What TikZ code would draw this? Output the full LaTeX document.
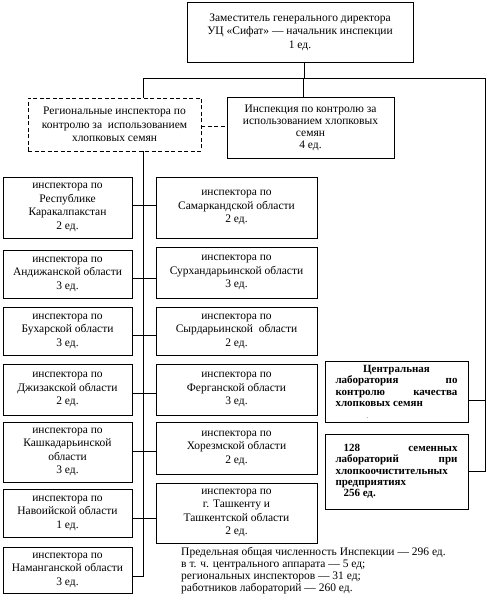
\documentclass[tikz,border=0pt]{standalone}
\usepackage{fontspec}
\setmainfont{Liberation Serif}
\begin{document}
\begin{tikzpicture}[x=1pt,y=-1pt,
  box/.style={draw, line width=0.8pt, align=center, inner sep=0pt, font=\fontsize{11.5}{13.5}\selectfont},
  dbox/.style={box, dash pattern=on 4pt off 2.5pt},
  lab/.style={draw, line width=0.8pt, inner sep=0pt, font=\bfseries\fontsize{11}{11.5}\selectfont},
  ln/.style={line width=0.8pt},
  note/.style={inner sep=0pt, anchor=north west, align=left, font=\fontsize{11.5}{12}\selectfont}]
\useasboundingbox (0,0) rectangle (488,609);
% top
\node[box, minimum width=226, minimum height=60] (top) at (300,32) {Заместитель генерального директора\\УЦ «Сифат» — начальник инспекции\\1 ед.};
\node[dbox, minimum width=173, minimum height=53] (reg) at (114.5,124.5) {Региональные инспектора по\\контролю за \ использованием\\хлопковых семян};
\node[box, minimum width=167, minimum height=61, font=\fontsize{11.5}{12}\selectfont] (insp) at (310.5,127.5) {Инспекция по контролю за\\использованием хлопковых\\семян\\4 ед.};
% left column
\node[box, minimum width=129, minimum height=61] (L1) at (67.5,207.5) {инспектора по\\Республике\\Каракалпакстан\\2 ед.};
\node[box, minimum width=129, minimum height=48] (L2) at (67.5,274) {инспектора по\\Андижанской области\\3 ед.};
\node[box, minimum width=129, minimum height=48] (L3) at (67.5,331) {инспектора по\\Бухарской области\\3 ед.};
\node[box, minimum width=129, minimum height=51] (L4) at (67.5,389.5) {инспектора по\\Джизакской области\\2 ед.};
\node[box, minimum width=129, minimum height=60] (L5) at (67.5,452) {инспектора по\\Кашкадарьинской\\области\\3 ед.};
\node[box, minimum width=129, minimum height=48] (L6) at (67.5,513) {инспектора по\\Навоийской области\\1 ед.};
\node[box, minimum width=129, minimum height=46] (L7) at (67.5,570) {инспектора по\\Наманганской области\\3 ед.};
% right column
\node[box, minimum width=161, minimum height=61] (R1) at (236.5,207.5) {инспектора по\\Самаркандской области\\2 ед.};
\node[box, minimum width=161, minimum height=51] (R2) at (236.5,272.5) {инспектора по\\Сурхандарьинской области\\3 ед.};
\node[box, minimum width=161, minimum height=48] (R3) at (236.5,331) {инспектора по\\Сырдарьинской \ области\\2 ед.};
\node[box, minimum width=161, minimum height=51] (R4) at (236.5,389.5) {инспектора по\\Ферганской области\\3 ед.};
\node[box, minimum width=161, minimum height=52] (R5) at (236.5,448) {инспектора по\\Хорезмской области\\2 ед.};
\node[box, minimum width=161, minimum height=60] (R6) at (236.5,513) {инспектора по\\г. Ташкенту и\\Ташкентской области\\2 ед.};
% labs
\node[lab, minimum width=143, minimum height=61] (clab) at (396.5,391.5) {\vbox{\hsize=122pt\baselineskip=11.5pt
  \hbox to\hsize{\hfil Центральная\hfil}
  \hbox to\hsize{лаборатория\hfill по}
  \hbox to\hsize{контролю\hfill качества}
  \hbox to\hsize{хлопковых семян\hfil}
  \hbox to\hsize{\hskip31pt{\mdseries\fontsize{6}{6}\selectfont .}\hfil}}};
\node[lab, minimum width=143, minimum height=75] (blab) at (396.5,471.5) {\vbox{\hsize=122pt\baselineskip=11.3pt
  \hbox to\hsize{\hskip8pt 128\hfill семенных}
  \hbox to\hsize{лабораторий\hfill при}
  \hbox to\hsize{хлопкоочистительных\hfil}
  \hbox to\hsize{предприятиях\hfil}
  \hbox to\hsize{\hskip8pt 256 ед.\hfil}}};
% footer
\node[note] (foot) at (181,547) {Предельная общая численность Инспекции — 296 ед.\\в т. ч. центрального аппарата — 5 ед;\\региональных инспекторов — 31 ед;\\работников лабораторий — 260 ед.};
% connectors
\coordinate (hl) at (143,78);
\coordinate (hr) at (485,78);
\coordinate (sp) at (143,576);
\draw[ln] ([xshift=4pt]top.south) -- ([xshift=4pt]top.south |- hl);
\draw[ln] (reg.north -| hl) -- (hl) -- (hr) -- (hr |- blab.east) -- (blab.east);
\draw[ln] ([yshift=-8.5pt]clab.east) -- ([yshift=-8.5pt]clab.east -| hr);
\draw[ln] ([xshift=-7.5pt]insp.north) -- ([xshift=-7.5pt]insp.north |- hl);
\draw[ln, dash pattern=on 4pt off 2.5pt] (reg.east |- 0,126) -- (insp.west |- 0,126);
\draw[ln] (reg.south -| hl) -- (sp) -- (sp -| L7.east);
\foreach \r/\yy in {1/205, 2/278, 3/335, 4/393, 5/451, 6/518} {
  \draw[ln] (L\r.east |- 0,\yy) -- (R\r.west |- 0,\yy);
}
\end{tikzpicture}
\end{document}
